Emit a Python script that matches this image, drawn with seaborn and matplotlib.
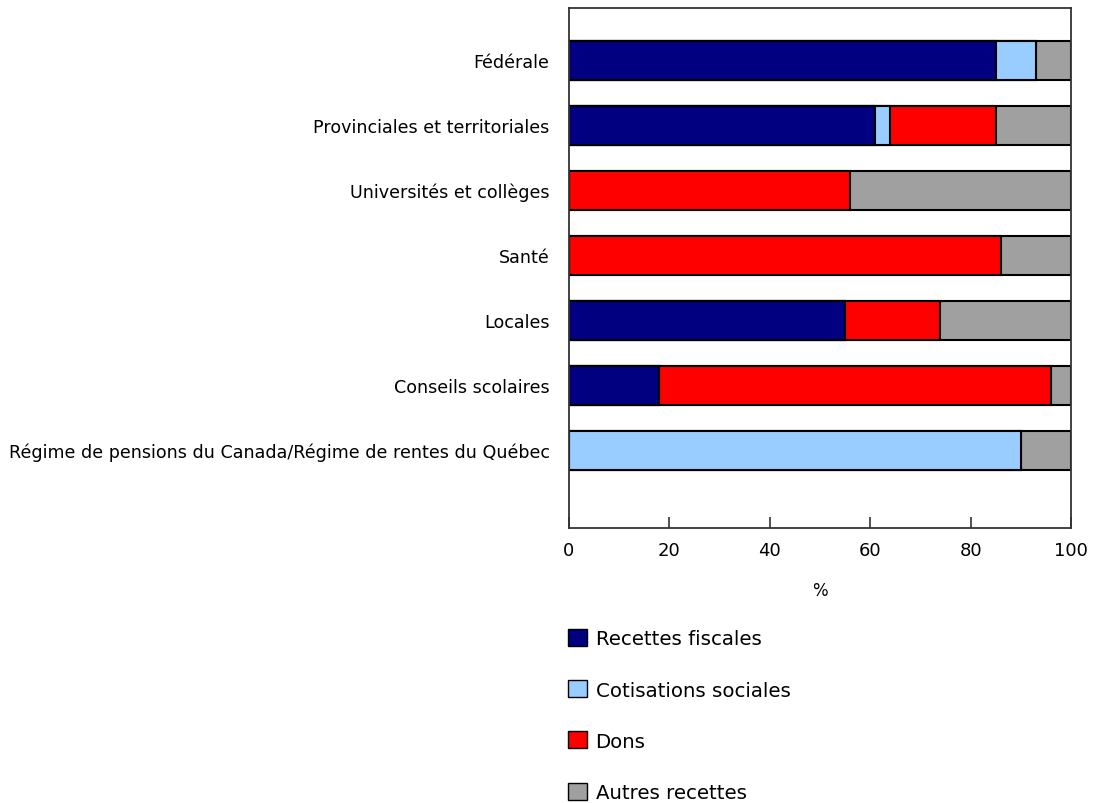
import matplotlib
matplotlib.use("Agg")
import matplotlib.pyplot as plt
import pandas as pd
import seaborn as sns
from matplotlib.patches import Patch

# données (pourcentages)
categories = ["Fédérale", "Provinciales et territoriales", "Universités et collèges", "Santé",
              "Locales", "Conseils scolaires",
              "Régime de pensions du Canada/Régime de rentes du Québec"]
recettes_fiscales = [85, 61, 0, 0, 55, 18, 0]
cotisations_sociales = [8, 3, 0, 0, 0, 0, 90]
dons = [0, 21, 56, 86, 19, 78, 0]
autres_recettes = [7, 15, 44, 14, 26, 4, 10]

series = ["Recettes fiscales", "Cotisations sociales", "Dons", "Autres recettes"]
colors = ["#000080", "#99ccff", "#ff0000", "#a0a0a0"]

df = pd.DataFrame({"cat": categories, series[0]: recettes_fiscales, series[1]: cotisations_sociales,
                   series[2]: dons, series[3]: autres_recettes})
cum = df[series].cumsum(axis=1)
cum["cat"] = df["cat"]

sns.set_theme(style="white")
plt.rcParams["font.family"] = ["DejaVu Sans"]
plt.rcParams["text.color"] = "black"
plt.rcParams["axes.labelcolor"] = "black"
plt.rcParams["xtick.labelcolor"] = "black"
plt.rcParams["ytick.labelcolor"] = "black"

fig = plt.figure(figsize=(10.93, 8.04), dpi=100)
ax = fig.add_axes([569 / 1093, 1 - 529 / 804, 502 / 1093, 520 / 804])

# barres empilées : on dessine les cumuls du plus grand au plus petit
for s, c in zip(series[::-1], colors[::-1]):
    sns.barplot(data=cum, x=s, y="cat", order=categories, color=c, orient="h", saturation=1,
                width=0.6, edgecolor="black", linewidth=1.5, ax=ax)

ax.set_xlim(0, 100)
ax.set_ylim(6 + 1.2, -0.8)
ax.set_xticks([0, 20, 40, 60, 80, 100])
ax.set_xlabel("%", fontsize=12, labelpad=16)
ax.set_ylabel("")
ax.tick_params(axis="x", direction="in", length=8, width=1.2, colors="#333333",
               labelsize=13, labelcolor="black", pad=9, bottom=True)
ax.tick_params(axis="y", length=0, labelsize=12.6, pad=14, labelcolor="black")
for sp in ax.spines.values():
    sp.set_color("#333333")
    sp.set_linewidth(1.3)

handles = [Patch(facecolor=c, edgecolor="black", linewidth=1) for c in colors]
fig.legend(handles, series, loc="upper left", bbox_to_anchor=(568 / 1093, 1 - 630 / 804),
           frameon=False, fontsize=14.2, handlelength=0.95, handleheight=0.95,
           handletextpad=0.45, labelspacing=1.62, borderaxespad=0, borderpad=0)

fig.savefig("out.png", dpi=100)
